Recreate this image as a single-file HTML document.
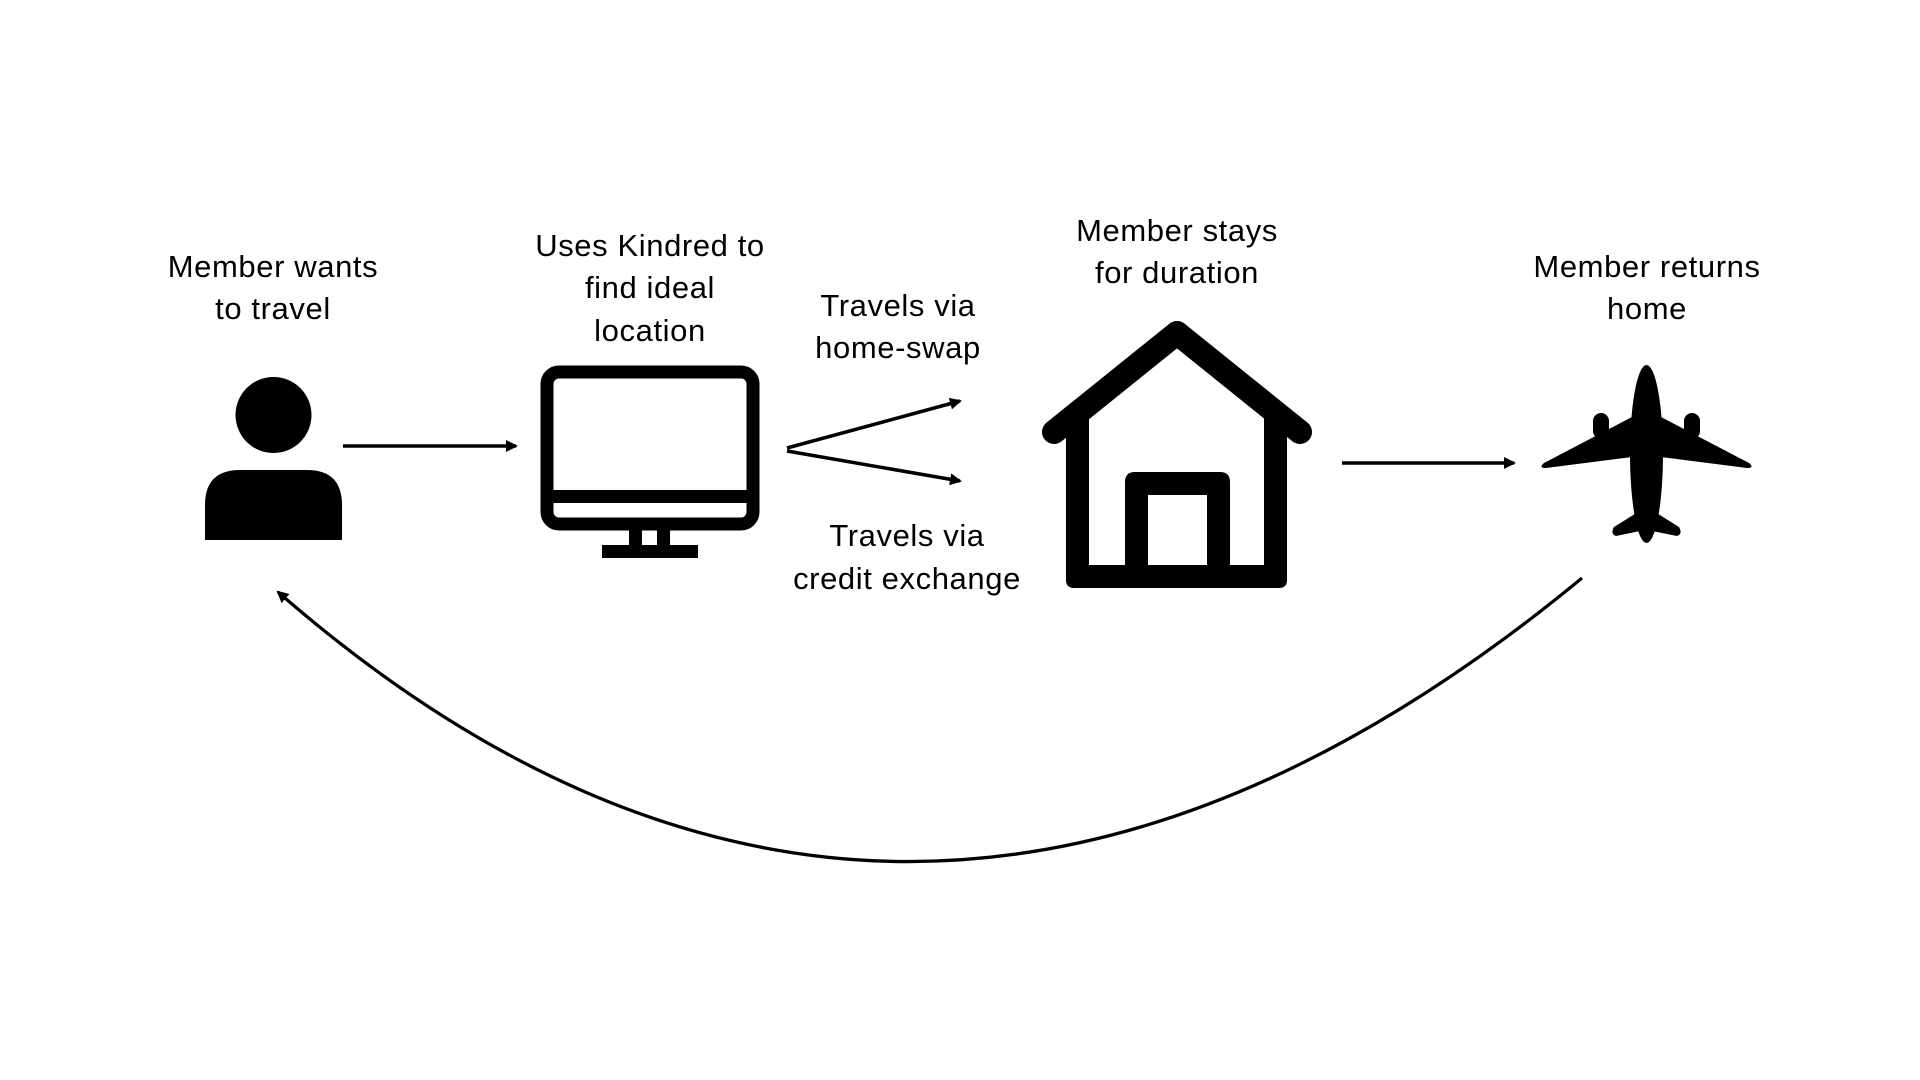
<!DOCTYPE html>
<html><head><meta charset="utf-8"><style>
html,body{margin:0;padding:0;background:#fff;}
svg{display:block;}
text{font-family:"Liberation Sans",sans-serif;font-size:31px;fill:#000;text-anchor:middle;letter-spacing:0.6px;}
</style></head><body>
<svg width="1920" height="1080" viewBox="0 0 1920 1080" xmlns="http://www.w3.org/2000/svg">
<defs>
<marker id="ah" markerWidth="14" markerHeight="14" refX="10" refY="7" orient="auto" markerUnits="userSpaceOnUse">
<path d="M0,1 L12,7 L0,13 Z" fill="#000"/>
</marker>
</defs>
<text x="273" y="277">Member wants</text>
<text x="273" y="319">to travel</text>
<text x="650" y="256">Uses Kindred to</text>
<text x="650" y="298">find ideal</text>
<text x="650" y="341">location</text>
<text x="898" y="316">Travels via</text>
<text x="898" y="358">home-swap</text>
<text x="907" y="546">Travels via</text>
<text x="907" y="589">credit exchange</text>
<text x="1177" y="241">Member stays</text>
<text x="1177" y="283">for duration</text>
<text x="1647" y="277">Member returns</text>
<text x="1647" y="319">home</text>

<circle cx="273.5" cy="415" r="38" fill="#000"/>
<path d="M205,540 L205,505 Q205,470 240,470 L307,470 Q342,470 342,505 L342,540 Z" fill="#000"/>

<line x1="343" y1="446" x2="516" y2="446" stroke="#000" stroke-width="3.5" marker-end="url(#ah)"/>

<rect x="547" y="372" width="206" height="152" rx="12" fill="none" stroke="#000" stroke-width="13"/>
<rect x="547" y="490" width="206" height="13" fill="#000"/>
<rect x="629" y="530" width="13" height="16" fill="#000"/>
<rect x="657" y="530" width="13" height="16" fill="#000"/>
<rect x="602" y="545" width="96" height="13" fill="#000"/>

<line x1="787" y1="448" x2="960" y2="401" stroke="#000" stroke-width="3.5" marker-end="url(#ah)"/>
<line x1="787" y1="451" x2="960" y2="481" stroke="#000" stroke-width="3.5" marker-end="url(#ah)"/>

<polyline points="1054,432 1177,333 1300,432" fill="none" stroke="#000" stroke-width="24" stroke-linecap="round" stroke-linejoin="round"/>
<path d="M1066,420 L1089,400 L1089,565 L1125,565 L1125,482 Q1125,472 1135,472 L1220,472 Q1230,472 1230,482 L1230,565 L1264,565 L1264,400 L1287,420 L1287,580 Q1287,588 1279,588 L1074,588 Q1066,588 1066,580 Z M1148,495 L1148,565 L1207,565 L1207,495 Z" fill="#000" fill-rule="evenodd"/>

<line x1="1342" y1="463" x2="1514" y2="463" stroke="#000" stroke-width="3.5" marker-end="url(#ah)"/>

<ellipse cx="1646.5" cy="454" rx="16.5" ry="89" fill="#000"/>
<path d="M1632,417 L1544,463 Q1538,468 1546,468 L1632,457 Z" fill="#000"/>
<path d="M1661,417 L1749,463 Q1755,468 1747,468 L1661,457 Z" fill="#000"/>
<rect x="1593" y="413" width="16" height="26" rx="8" fill="#000"/>
<rect x="1684" y="413" width="16" height="26" rx="8" fill="#000"/>
<path d="M1638,512 L1614,527 Q1610,534 1616,536 L1640,531 L1646,543 L1652,531 L1677,536 Q1683,534 1679,527 L1655,512 Z" fill="#000"/>

<path d="M1582,578 Q904,1138 278,592" fill="none" stroke="#000" stroke-width="3.2" marker-end="url(#ah)"/>
</svg>
</body></html>
